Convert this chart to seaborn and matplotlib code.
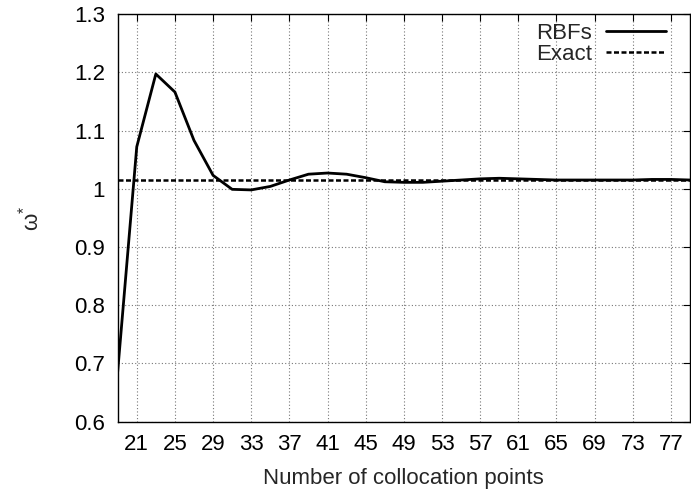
import numpy as np
import pandas as pd
import matplotlib
matplotlib.use("Agg")
import matplotlib.pyplot as plt
import seaborn as sns

points = [19, 21, 23, 25, 27, 29, 31, 33, 35, 37, 39, 41, 43, 45, 47, 49, 51, 53,
          55, 57, 59, 61, 63, 65, 67, 69, 71, 73, 75, 77, 79]
rbfs = [0.686, 1.072, 1.197, 1.166, 1.083, 1.023, 0.999, 0.998, 1.004, 1.015,
        1.025, 1.027, 1.025, 1.019, 1.012, 1.011, 1.011, 1.013, 1.015, 1.017,
        1.018, 1.017, 1.016, 1.015, 1.015, 1.015, 1.015, 1.015, 1.016, 1.016, 1.015]
exact_value = 1.015
xticks = list(range(21, 78, 4))
yticks = [0.6, 0.7, 0.8, 0.9, 1.0, 1.1, 1.2, 1.3]
ytick_labels = ["0.6", "0.7", "0.8", "0.9", "1", "1.1", "1.2", "1.3"]

sns.set_style("white")
plt.rcParams['font.family'] = ['Liberation Sans', 'DejaVu Sans']
plt.rcParams['mathtext.fontset'] = 'dejavusans'

df = pd.DataFrame({"x": points, "RBFs": rbfs, "Exact": [exact_value] * len(points)})

fig = plt.figure(figsize=(6.91, 4.95), dpi=100)
ax = fig.add_axes([0.1703, 0.148, 0.8283, 0.8237])

sns.lineplot(data=df, x="x", y="RBFs", ax=ax, color="black", linewidth=2.0, label="RBFs")
sns.lineplot(data=df, x="x", y="Exact", ax=ax, color="black", linewidth=1.8,
             linestyle=(0, (2.0, 1.0)), label="Exact")

ax.set_xlim(19, 79)
ax.set_ylim(0.6, 1.3)
ax.set_xticks(xticks)
ax.set_xticklabels([str(t) for t in xticks])
ax.set_yticks(yticks)
ax.set_yticklabels(ytick_labels)
ax.tick_params(direction="in", length=5, width=0.8, top=True, right=True,
               labelsize=16, pad=9, colors="black")
ax.grid(True, linestyle=(0, (1, 2)), color="#777777", linewidth=0.8)
for s in ax.spines.values():
    s.set_color("black")
    s.set_linewidth(1.0)
ax.set_xlabel("Number of collocation points", fontsize=16, labelpad=9)
ax.set_ylabel(r"$\mathregular{\omega^{*}}$", fontsize=16, labelpad=22)

leg = ax.legend(loc="upper right", bbox_to_anchor=(0.973, 1.0), frameon=False,
                markerfirst=False, fontsize=16, handlelength=2.7, borderaxespad=0.0,
                labelspacing=0.0, handletextpad=0.6)

fig.savefig("out.png", dpi=100)
